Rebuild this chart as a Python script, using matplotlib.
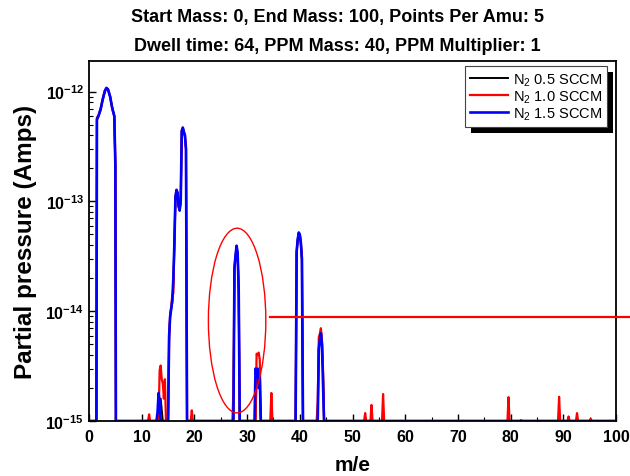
import matplotlib
matplotlib.use("Agg")
import matplotlib.pyplot as plt
import numpy as np
from matplotlib.patches import Ellipse, Rectangle
from matplotlib.ticker import FixedLocator, FuncFormatter, MultipleLocator, NullFormatter

plt.rcParams['font.family'] = ['Liberation Sans', 'DejaVu Sans']
plt.rcParams['mathtext.fontset'] = 'custom'
plt.rcParams['mathtext.rm'] = 'Liberation Sans'
plt.rcParams['mathtext.bf'] = 'Liberation Sans:bold'
plt.rcParams['mathtext.it'] = 'Liberation Sans:italic'

# floor of the scan (values at/below the axis bottom)
BASE = 1e-15

# N2 0.5 SCCM (black)
black_x = [0, 1.4, 1.5, 1.8, 2.2, 2.6, 3.0, 3.3, 3.6, 4.0, 4.4, 4.8, 5.0, 5.1,
           13.2, 13.6, 14.0, 15.0, 15.2, 15.4, 15.6, 15.8, 16.0, 16.2, 16.4, 16.6, 16.8,
           17.0, 17.2, 17.4, 17.6, 17.8, 18.0, 18.2, 18.4, 18.6,
           27.4, 27.6, 27.8, 28.0, 28.2, 28.4, 28.6,
           31.6, 31.8, 32.0, 32.2, 32.4, 32.6,
           39.2, 39.4, 39.6, 39.8, 40.0, 40.2, 40.4, 40.6,
           43.4, 43.6, 43.8, 44.0, 44.2, 44.4, 44.6, 100]
black_y = [BASE, BASE, 5.5e-13, 6.0e-13, 6.8e-13, 8.4e-13, 1.0e-12, 1.07e-12, 1.04e-12, 9.0e-13, 7.2e-13, 6.0e-13, 2.0e-13, BASE,
           BASE, 1.6e-15, BASE, BASE, 5.5e-15, 9.0e-15, 1.05e-14, 1.2e-14, 1.8e-14, 4.0e-14, 1.05e-13, 1.25e-13, 1.15e-13,
           9.0e-14, 8.2e-14, 1.0e-13, 4.3e-13, 4.6e-13, 4.2e-13, 3.9e-13, 3.0e-13, BASE,
           BASE, 2.4e-14, 3.1e-14, 3.8e-14, 3.3e-14, 1.5e-14, BASE,
           BASE, 2.4e-15, 2.8e-15, 2.0e-15, 2.2e-15, BASE,
           BASE, 3.4e-14, 4.4e-14, 5.1e-14, 4.9e-14, 4.1e-14, 2.9e-14, BASE,
           BASE, 4.6e-15, 5.8e-15, 6.6e-15, 5.2e-15, 3.0e-15, BASE, BASE]

# N2 1.0 SCCM (red)
red_x = [0, 1.4, 1.5, 1.8, 2.2, 2.6, 3.0, 3.3, 3.6, 4.0, 4.4, 4.8, 5.0, 5.1,
         11.2, 11.4, 11.6, 13.2, 13.4, 13.6, 13.8, 14.0, 14.2, 14.4, 14.6,
         15.0, 15.2, 15.4, 15.6, 15.8, 16.0, 16.2, 16.4, 16.6, 16.8,
         17.0, 17.2, 17.4, 17.6, 17.8, 18.0, 18.2, 18.4, 18.6, 19.3, 19.5, 19.7,
         27.2, 27.4, 27.6, 27.8, 28.0, 28.2, 28.4, 28.6,
         31.6, 31.8, 32.0, 32.2, 32.4, 32.6, 34.4, 34.6, 34.8,
         39.2, 39.4, 39.6, 39.8, 40.0, 40.2, 40.4, 40.6,
         43.2, 43.4, 43.6, 43.8, 44.0, 44.2, 44.4, 44.6,
         52.2, 52.4, 52.6, 53.4, 53.6, 53.8, 55.6, 55.8, 56.0,
         79.4, 79.6, 79.8, 81.8, 82.0, 82.2, 89.0, 89.2, 89.4,
         90.8, 91.0, 91.2, 92.4, 92.6, 92.8, 95.0, 95.2, 95.4, 100]
red_y = [BASE, BASE, 5.8e-13, 6.1e-13, 7.0e-13, 8.6e-13, 1.02e-12, 1.08e-12, 1.05e-12, 9.1e-13, 7.0e-13, 5.9e-13, 2.2e-13, BASE,
         BASE, 1.15e-15, BASE, BASE, 2.9e-15, 3.2e-15, 2.4e-15, 2.2e-15, 1.6e-15, 2.4e-15, BASE,
         BASE, 6.0e-15, 9.5e-15, 1.1e-14, 1.4e-14, 1.45e-14, 4.2e-14, 1.1e-13, 1.28e-13, 1.2e-13,
         9.0e-14, 8.5e-14, 1.0e-13, 4.4e-13, 4.7e-13, 4.3e-13, 4.0e-13, 3.0e-13, BASE, BASE, 1.25e-15, BASE,
         BASE, 1.8e-15, 2.5e-14, 3.2e-14, 3.9e-14, 3.3e-14, 1.6e-14, BASE,
         BASE, 4.1e-15, 4.0e-15, 4.2e-15, 3.6e-15, BASE, BASE, 1.8e-15, BASE,
         BASE, 3.5e-14, 4.5e-14, 5.2e-14, 5.0e-14, 4.2e-14, 3.0e-14, BASE,
         BASE, 1.5e-15, 5.8e-15, 6.2e-15, 7.0e-15, 5.5e-15, 3.0e-15, BASE,
         BASE, 1.18e-15, BASE, BASE, 1.4e-15, BASE, BASE, 1.76e-15, BASE,
         BASE, 1.65e-15, BASE, BASE, 1.02e-15, BASE, BASE, 1.66e-15, BASE,
         BASE, 1.1e-15, BASE, BASE, 1.18e-15, BASE, BASE, 1.05e-15, BASE, BASE]

# N2 1.5 SCCM (blue)
blue_x = [0, 1.4, 1.5, 1.8, 2.2, 2.6, 3.0, 3.3, 3.6, 4.0, 4.4, 4.8, 5.0, 5.1,
          12.8, 13.0, 13.2, 13.4, 13.6, 15.0, 15.2, 15.4, 15.6, 15.8, 16.0, 16.2, 16.4, 16.6, 16.8,
          17.0, 17.2, 17.4, 17.6, 17.8, 18.0, 18.2, 18.4, 18.6,
          27.4, 27.6, 27.8, 28.0, 28.2, 28.4, 28.6,
          31.4, 31.6, 31.8, 32.0, 32.2, 32.4, 32.6,
          39.2, 39.4, 39.6, 39.8, 40.0, 40.2, 40.4, 40.6,
          43.4, 43.6, 43.8, 44.0, 44.2, 44.4, 44.6, 100]
blue_y = [BASE, BASE, 5.6e-13, 6.0e-13, 6.9e-13, 8.5e-13, 1.01e-12, 1.08e-12, 1.05e-12, 9.0e-13, 7.1e-13, 6.0e-13, 2.1e-13, BASE,
          BASE, 1.2e-15, 1.8e-15, 1.5e-15, BASE, BASE, 6.0e-15, 9.0e-15, 1.05e-14, 1.25e-14, 2.0e-14, 4.2e-14, 1.1e-13, 1.27e-13, 1.2e-13,
          9.0e-14, 8.3e-14, 1.0e-13, 4.4e-13, 4.7e-13, 4.3e-13, 4.0e-13, 3.0e-13, BASE,
          BASE, 2.5e-14, 3.2e-14, 3.95e-14, 3.4e-14, 1.6e-14, BASE,
          BASE, 3.0e-15, 2.5e-15, 3.0e-15, 2.0e-15, 2.5e-15, BASE,
          BASE, 3.5e-14, 4.5e-14, 5.2e-14, 5.0e-14, 4.2e-14, 3.0e-14, BASE,
          BASE, 4.5e-15, 5.5e-15, 6.3e-15, 5.0e-15, 2.2e-15, BASE, BASE]

labels = ['N$_2$ 0.5 SCCM', 'N$_2$ 1.0 SCCM', 'N$_2$ 1.5 SCCM']
colors = ['black', 'red', 'blue']

title_lines = ['Start Mass: 0, End Mass: 100, Points Per Amu: 5',
               'Dwell time: 64, PPM Mass: 40, PPM Multiplier: 1']

# y decades that carry a label
y_decades = [1e-15, 1e-14, 1e-13, 1e-12]

# annotation: highlight of the mass-28 peak and the reference level
MARK_LEVEL = 8.9e-15


def log_label(v, pos):
    return r'$\mathbf{10^{%d}}$' % int(round(np.log10(v)))


def minor_log_ticks(decades):
    ticks = []
    for d in decades:
        ticks += [k * d for k in range(2, 10)]
    return ticks


fig = plt.figure(figsize=(6.3, 4.77), dpi=100)
ax = fig.add_axes([0.1413, 0.1153, 0.8365, 0.7547])

series = [(black_x, black_y), (red_x, red_y), (blue_x, blue_y)]
widths = [1.4, 1.6, 1.9]
for (xs, ys), c, lab, lw in zip(series, colors, labels, widths):
    ax.plot(xs, ys, color=c, lw=lw, label=lab)

ax.set_yscale('log')
ax.set_xlim(0, 100)
ax.set_ylim(1e-15, 1.9e-12)

ax.xaxis.set_major_locator(MultipleLocator(10))
ax.xaxis.set_minor_locator(MultipleLocator(5))
ax.yaxis.set_major_locator(FixedLocator(y_decades))
ax.yaxis.set_minor_locator(FixedLocator(minor_log_ticks(y_decades[:-1])))
ax.yaxis.set_major_formatter(FuncFormatter(log_label))
ax.yaxis.set_minor_formatter(NullFormatter())
ax.tick_params(which='both', direction='in', top=False, right=False)
ax.tick_params(which='major', length=5, width=1, labelsize=11.5)
ax.tick_params(axis='x', which='major', pad=6)
ax.tick_params(which='minor', length=3, width=0.8)
for lab in ax.get_xticklabels():
    lab.set_fontweight('bold')
for sp in ax.spines.values():
    sp.set_linewidth(1.3)

ax.set_xlabel('m/e', fontsize=15, fontweight='bold', labelpad=8)
ax.set_ylabel('Partial pressure (Amps)', fontsize=17.5, fontweight='bold', labelpad=6)

fig.text(0.535, 0.963, title_lines[0], ha='center', va='center', fontsize=13, fontweight='bold')
fig.text(0.535, 0.903, title_lines[1], ha='center', va='center', fontsize=13, fontweight='bold')

leg = ax.legend(loc='upper right', bbox_to_anchor=(0.983, 0.986), borderaxespad=0,
                fontsize=10.5, fancybox=False, framealpha=1, edgecolor='#444444',
                handlelength=2.6, handletextpad=0.35, labelspacing=0.05, borderpad=0.35)
leg.get_frame().set_linewidth(0.8)
leg.set_zorder(6)

ax.add_patch(Ellipse((0.281, 0.279), 0.109, 0.513, transform=ax.transAxes,
                     fill=False, edgecolor='red', lw=1, zorder=4))
ax.axhline(MARK_LEVEL, xmin=0.343, xmax=1.03, color='red', lw=1.6, clip_on=False, zorder=4)

# hard black drop shadow behind the legend box
fig.canvas.draw()
bb = leg.get_window_extent()
ax.add_patch(Rectangle((bb.x0 + 6, bb.y0 - 6), bb.width, bb.height, transform=None,
                       facecolor='black', edgecolor='none', zorder=5, clip_on=False))

fig.savefig('out.png', dpi=100)
